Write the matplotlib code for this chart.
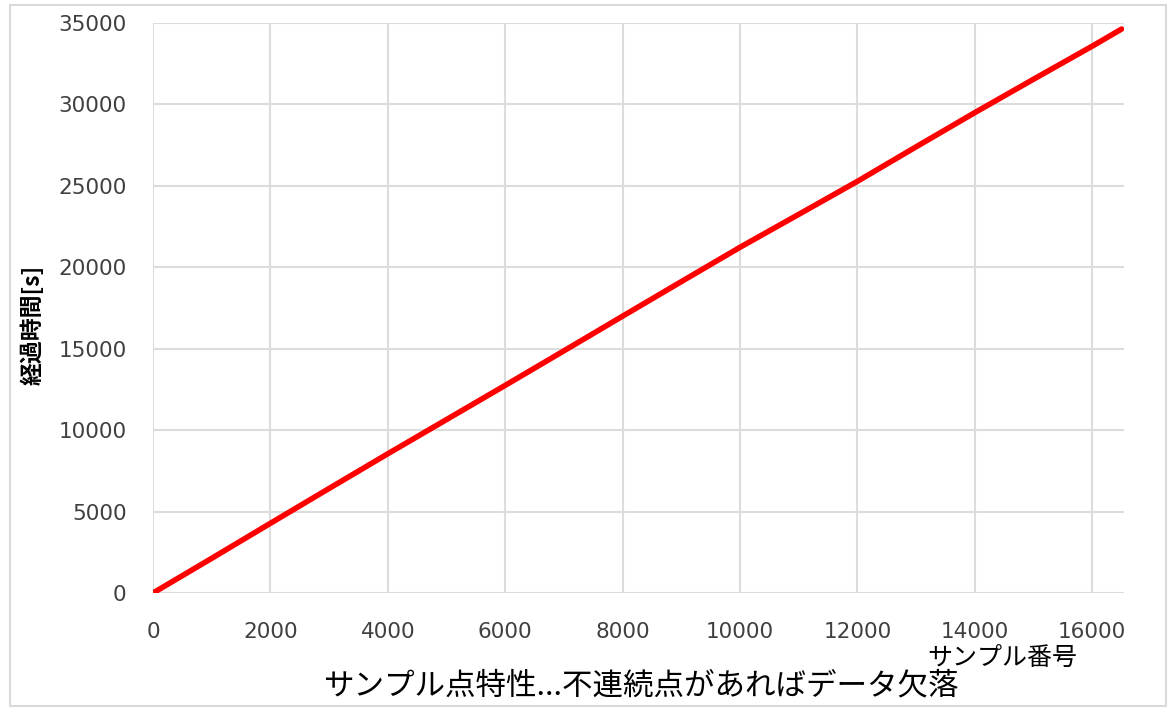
import matplotlib
matplotlib.use("Agg")
import matplotlib.pyplot as plt
from matplotlib.patches import Rectangle

plt.rcParams['font.family'] = ['DejaVu Sans', 'Noto Sans CJK JP']

# Data
sample_no = [0, 1000, 2000, 3000, 4000, 5000, 6000, 7000, 8000, 9000,
             10000, 11000, 12000, 13000, 14000, 15000, 16000, 16500]
elapsed_s = [0, 2130, 4280, 6420, 8550, 10650, 12750, 14870, 17000, 19120,
             21230, 23250, 25280, 27400, 29500, 31550, 33580, 34630]
x_ticks = [0, 2000, 4000, 6000, 8000, 10000, 12000, 14000, 16000]
y_ticks = [0, 5000, 10000, 15000, 20000, 25000, 30000, 35000]
y_label = "経過時間[s]"
x_label = "サンプル番号"
caption = "サンプル点特性...不連続点があればデータ欠落"

W, H = 1168, 708
fig = plt.figure(figsize=(W / 100, H / 100), dpi=100)

# outer chart border
fig.patches.append(Rectangle((10 / W, 1 - 706 / H), 1156 / W, 701 / H,
                             transform=fig.transFigure, fill=False,
                             edgecolor='#d9d9d9', linewidth=1.5))

left, right, top, bottom = 153, 1124, 23, 593
ax = fig.add_axes([left / W, 1 - bottom / H, (right - left) / W, (bottom - top) / H])

ax.plot(sample_no, elapsed_s, color='#ff0000', linewidth=4.0, solid_capstyle='round', zorder=3)

ax.set_xlim(0, 16540)
ax.set_ylim(0, 35000)
ax.set_xticks(x_ticks)
ax.set_yticks(y_ticks)
ax.set_xticklabels([str(v) for v in x_ticks])
ax.set_yticklabels([str(v) for v in y_ticks])
for s in ax.spines.values():
    s.set_visible(False)
ax.grid(True, color='#dcdcdc', linewidth=1.5)
ax.set_axisbelow(True)
ax.tick_params(axis='both', length=0, labelsize=15.5, labelcolor='#404040')
ax.tick_params(axis='y', pad=19)
ax.tick_params(axis='x', pad=21)

cjk = ['Noto Sans CJK JP', 'DejaVu Sans']
fig.text(33 / W, 1 - 325 / H, y_label, rotation=90, ha='center', va='center',
         fontsize=16.5, fontweight='bold', family=cjk, color='black')
fig.text(1002 / W, 1 - 658 / H, x_label, ha='center', va='center',
         fontsize=18, family=cjk, color='black')
fig.text(642 / W, 1 - 686 / H, caption, ha='center', va='center',
         fontsize=22, family=cjk, color='black')

fig.savefig('out.png', dpi=100)
